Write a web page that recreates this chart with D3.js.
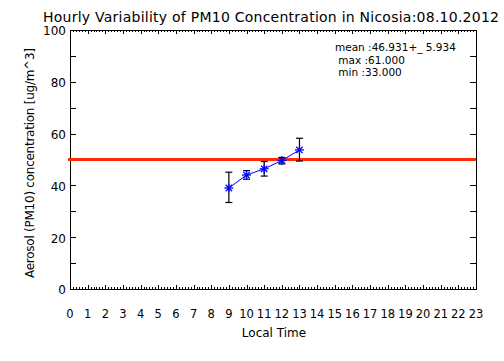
<!DOCTYPE html>
<html>
<head>
<meta charset="utf-8">
<script src="https://cdn.jsdelivr.net/npm/d3@7"></script>
<style>
  body { margin: 0; background: #fff; }
  text { font-family: "DejaVu Sans", sans-serif; fill: #000; }
</style>
</head>
<body>
<div id="chart"></div>
<script>
// hourly PM10 values
const hours = [9, 10, 11, 12, 13];
const means = [39.0, 44.0, 46.4, 49.6, 53.7];
const lows = [33.4, 42.4, 43.6, 48.3, 49.4];
const highs = [45.1, 45.7, 49.2, 50.8, 58.2];
const limitValue = 50;
const xTicks = d3.range(0, 24);
const yTicks = [0, 20, 40, 60, 80, 100];
const statLines = ["mean :46.931+_ 5.934", " max :61.000", " min :33.000"];

const W = 504, H = 361;
const margin = {top: 30, right: 28, bottom: 72, left: 70};
const width = W - margin.left - margin.right,
    height = H - margin.top - margin.bottom;

const svg = d3.select("#chart")
    .append("svg")
    .attr("width", W)
    .attr("height", H);

const g = svg.append("g")
    .attr("transform", `translate(${margin.left},${margin.top})`);

const x = d3.scaleLinear().domain([0, 23]).range([0, width]);
const y = d3.scaleLinear().domain([0, 100]).range([height, 0]);

// frame
g.append("rect")
    .attr("x", 0).attr("y", 0)
    .attr("width", width).attr("height", height)
    .attr("fill", "none").attr("stroke", "#000").attr("stroke-width", 1)
    .attr("shape-rendering", "crispEdges");

// x axis ticks (bottom and top), minor every 10 minutes
const minorX = d3.range(0, 23 * 6 + 1);
function xTickMarks(yPos, dir) {
    g.append("g").selectAll("line")
        .data(minorX)
        .join("line")
        .attr("x1", d => Math.round(x(d / 6)) + 0.5)
        .attr("x2", d => Math.round(x(d / 6)) + 0.5)
        .attr("y1", yPos)
        .attr("y2", d => yPos + dir * (d % 6 === 0 ? 4 : 2))
        .attr("stroke", "#000");
}
xTickMarks(height, -1);
xTickMarks(0, 1);

// x tick labels
g.append("g").selectAll("text")
    .data(xTicks)
    .join("text")
    .attr("x", d => x(d))
    .attr("y", height + 29)
    .attr("text-anchor", "middle")
    .style("font-size", "11.5px")
    .text(d => d);

// y axis ticks every 10 on both sides
const yMinor = d3.range(0, 101, 10);
[[0, 1], [width, -1]].forEach(([xPos, dir]) => {
    g.append("g").selectAll("line")
        .data(yMinor)
        .join("line")
        .attr("x1", xPos)
        .attr("x2", xPos + dir * 6)
        .attr("y1", d => Math.round(y(d)) + 0.5)
        .attr("y2", d => Math.round(y(d)) + 0.5)
        .attr("stroke", "#000");
});

g.append("g").selectAll("text")
    .data(yTicks)
    .join("text")
    .attr("x", -4)
    .attr("y", d => y(d))
    .attr("dy", "0.45em")
    .attr("text-anchor", "end")
    .style("font-size", "12px")
    .text(d => d);

// limit line
g.append("line")
    .attr("x1", -2).attr("x2", width)
    .attr("y1", y(limitValue)).attr("y2", y(limitValue))
    .attr("stroke", "#ff2a00").attr("stroke-width", 3);

// error bars
const pts = hours.map((h, i) => ({h: h, m: means[i], lo: lows[i], hi: highs[i]}));
const eb = g.append("g").attr("stroke", "#000").attr("stroke-width", 1.2);
eb.selectAll(".v").data(pts).join("line")
    .attr("x1", d => x(d.h)).attr("x2", d => x(d.h))
    .attr("y1", d => y(d.lo)).attr("y2", d => y(d.hi));
eb.selectAll(".lo").data(pts).join("line")
    .attr("x1", d => x(d.h) - 3.5).attr("x2", d => x(d.h) + 3.5)
    .attr("y1", d => y(d.lo)).attr("y2", d => y(d.lo));
eb.selectAll(".hi").data(pts).join("line")
    .attr("x1", d => x(d.h) - 3.5).attr("x2", d => x(d.h) + 3.5)
    .attr("y1", d => y(d.hi)).attr("y2", d => y(d.hi));

// mean line
g.append("path")
    .datum(pts)
    .attr("fill", "none")
    .attr("stroke", "#0000ff")
    .attr("stroke-width", 1)
    .attr("d", d3.line().x(d => x(d.h)).y(d => y(d.m)));

// asterisk markers
const star = g.append("g").attr("stroke", "#0000ff").attr("stroke-width", 1.3);
pts.forEach(d => {
    const cx = x(d.h), cy = y(d.m), r = 4.5;
    star.append("line").attr("x1", cx - r).attr("x2", cx + r).attr("y1", cy).attr("y2", cy);
    star.append("line").attr("x1", cx).attr("x2", cx).attr("y1", cy - r).attr("y2", cy + r);
    star.append("line").attr("x1", cx - 3.2).attr("x2", cx + 3.2).attr("y1", cy - 3.2).attr("y2", cy + 3.2);
    star.append("line").attr("x1", cx - 3.2).attr("x2", cx + 3.2).attr("y1", cy + 3.2).attr("y2", cy - 3.2);
});

// stats text
g.append("g").selectAll("text")
    .data(statLines)
    .join("text")
    .attr("x", 265)
    .attr("y", (d, i) => 21 + i * 12.5)
    .attr("xml:space", "preserve")
    .style("white-space", "pre")
    .style("font-size", "10.5px")
    .text(d => d);

// title
svg.append("text")
    .attr("x", 271)
    .attr("y", 22)
    .attr("text-anchor", "middle")
    .attr("textLength", 456)
    .style("font-size", "14px")
    .text("Hourly Variability of PM10 Concentration in Nicosia:08.10.2012");

// axis titles
svg.append("text")
    .attr("x", 274)
    .attr("y", 337)
    .attr("text-anchor", "middle")
    .style("font-size", "12px")
    .text("Local Time");

svg.append("text")
    .attr("transform", "translate(34,163) rotate(-90)")
    .attr("text-anchor", "middle")
    .attr("textLength", 230)
    .style("font-size", "12px")
    .text("Aerosol (PM10) concentration [ug/m^3]");
</script>
</body>
</html>
